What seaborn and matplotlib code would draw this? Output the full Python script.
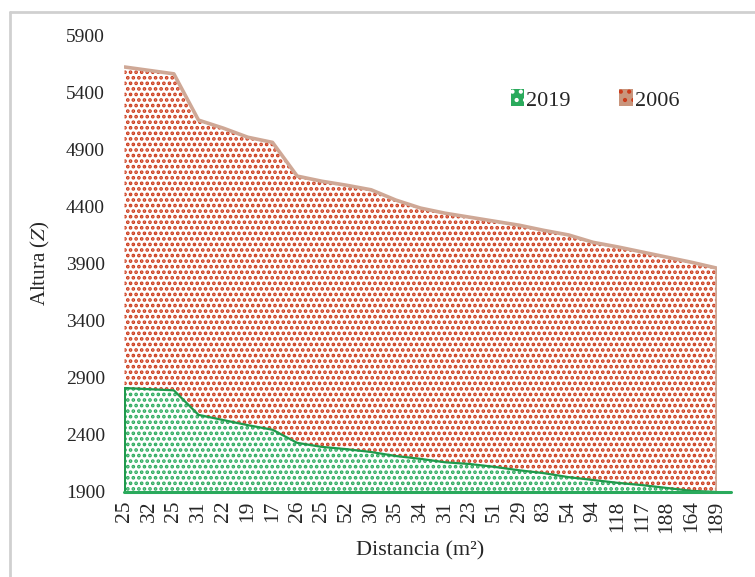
import matplotlib
matplotlib.use("Agg")
import matplotlib.pyplot as plt
import seaborn as sns
import numpy as np
import pandas as pd
from matplotlib.patches import Patch
from matplotlib.lines import Line2D

# ---- data ----
distancia = ["25", "32", "25", "31", "22", "19", "17", "26", "25", "52", "30", "35", "34",
             "31", "23", "51", "29", "83", "54", "94", "118", "117", "188", "164", "189"]
alt_2006 = [5620, 5590, 5560, 5155, 5085, 5005, 4960, 4665, 4620, 4585, 4545, 4455, 4385,
            4340, 4305, 4270, 4235, 4190, 4150, 4085, 4045, 4000, 3955, 3910, 3860]
alt_2019 = [2810, 2800, 2790, 2575, 2530, 2485, 2445, 2330, 2295, 2275, 2250, 2215, 2190,
            2160, 2145, 2120, 2090, 2065, 2030, 2005, 1980, 1960, 1935, 1910, 1900]
y_ticks = [1900, 2400, 2900, 3400, 3900, 4400, 4900, 5400, 5900]
series_names = ["2019", "2006"]

sns.set_theme(style="white")
plt.rcParams["font.family"] = ["Liberation Serif", "DejaVu Serif"]
plt.rcParams["mathtext.fontset"] = "stix"
plt.rcParams["hatch.linewidth"] = 1.8

df = pd.DataFrame({"pos": np.arange(len(distancia)), "d": distancia,
                   "a2006": alt_2006, "a2019": alt_2019})

W, H = 755, 577
fig = plt.figure(figsize=(W / 100, H / 100), dpi=100)
ax = fig.add_axes([124.5 / W, 85 / H, (716.5 - 124.5) / W, (542 - 85) / H])

base = y_ticks[0]
red_dot = "#cc3a1a"
red_edge = "#cfa896"
green_dot = "#2aaa5c"
green_edge = "#1f9a4c"

# 2006 area
ax.fill_between(df["pos"], base, df["a2006"], facecolor="white", edgecolor=red_dot,
                hatch="...", linewidth=0, zorder=1)
sns.lineplot(data=df, x="pos", y="a2006", ax=ax, color=red_edge, lw=2.6, zorder=2)
ax.vlines(df["pos"].iloc[-1], base, df["a2006"].iloc[-1], color=red_edge, lw=2.6, zorder=2)

# 2019 area
ax.fill_between(df["pos"], base, df["a2019"], facecolor="white", edgecolor=green_dot,
                hatch="...", linewidth=0, zorder=3)
sns.lineplot(data=df, x="pos", y="a2019", ax=ax, color=green_edge, lw=1.6, zorder=4)
ax.vlines(df["pos"].iloc[0], base, df["a2019"].iloc[0], color=green_edge, lw=2.2, zorder=4)

ax.axhline(base, xmin=0, xmax=1.024, color=green_dot, lw=2.2, clip_on=False, zorder=5)

ax.set_xlim(0, len(distancia) - 1)
ax.set_ylim(y_ticks[0], y_ticks[-1])
ax.set_yticks(y_ticks)
ax.set_yticklabels([str(v) for v in y_ticks], fontsize=14)
ax.set_xticks(df["pos"])
ax.set_xticklabels(distancia, rotation=90, fontsize=15.5)
ax.tick_params(axis="both", length=0, pad=6)
ax.tick_params(axis="y", pad=14)
for s in ax.spines.values():
    s.set_visible(False)

ax.set_xlabel("Distancia (m²)", fontsize=16, labelpad=6)
ax.set_ylabel("Altura ($\\mathit{Z}$)", fontsize=15, labelpad=10)

handles = [Patch(facecolor=green_dot, edgecolor="white", hatch="..", linewidth=0),
           Patch(facecolor="#c9957c", edgecolor=red_dot, hatch="..", linewidth=0)]
ax.legend(handles, series_names, ncol=2, frameon=False, fontsize=16,
          loc="center", bbox_to_anchor=((595 - 124.5) / (716.5 - 124.5), (577 - 100 - 85) / (542 - 85)),
          handlelength=0.6, handleheight=0.8, handletextpad=0.1, columnspacing=2.2)

# outer frame (left and top)
fig.add_artist(Line2D([10 / W, 10 / W], [0, 1 - 12 / H], transform=fig.transFigure,
                      color="#d0d0d0", lw=2))
fig.add_artist(Line2D([10 / W, 1], [1 - 12 / H, 1 - 12 / H], transform=fig.transFigure,
                      color="#d0d0d0", lw=2))

fig.savefig("out.png", dpi=100)
